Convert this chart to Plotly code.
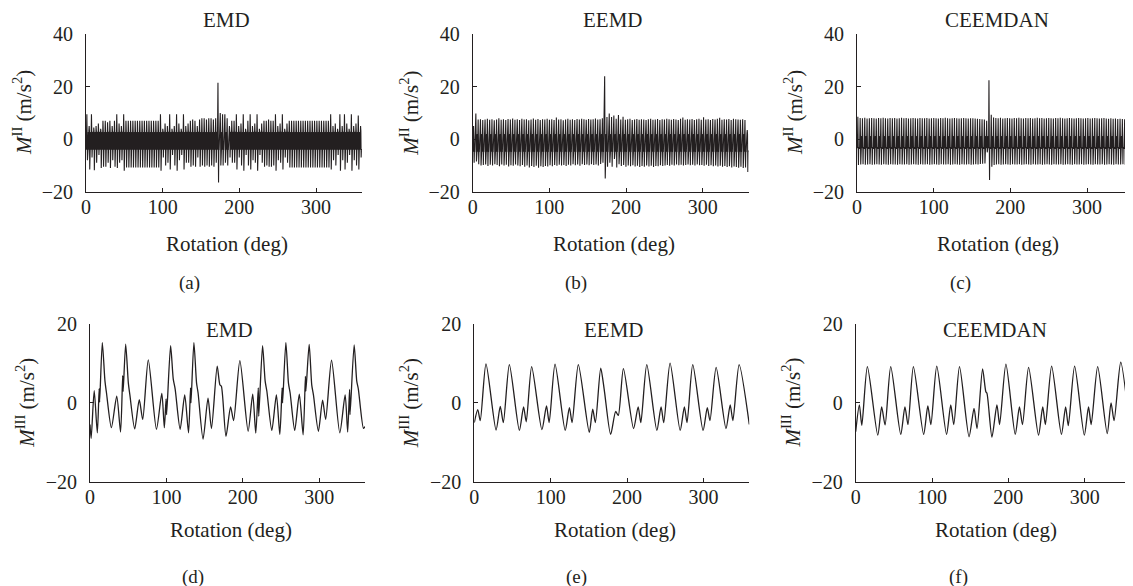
import plotly.graph_objects as go

# ---- top row: one entry per 3-degree mesh cycle (peak / trough of each impulse)
CYCLE_DEG = 3

PEAKS_EMD = [
    9.5, 5, 9.5, 4.5, 5, 6, 4, 7, 7, 6.5,
    7, 5, 7, 9.5, 6, 5, 9.5, 7, 7, 7,
    7, 7, 7, 7, 7, 7, 7, 7, 7, 7,
    7, 7, 9.5, 4, 6, 5, 9.5, 4, 5, 9.5,
    6, 4, 9.5, 5, 6, 7, 7.5, 7, 5, 7.5,
    8, 8, 7.5, 8, 8, 7.5, 8, 21.5, 10, 9.5,
    9.5, 8, 5, 7, 7, 9.5, 5, 6, 9.5, 4,
    7, 9.5, 5, 6, 9.5, 4, 6, 7, 7, 7.5,
    7, 7, 9.5, 5, 6, 9.5, 4, 6, 7, 7,
    7, 7, 7, 7, 7, 7, 7, 7, 7, 7,
    7, 7, 7, 7, 7, 7, 9.5, 5, 6, 4,
    9.5, 5, 9.5, 6, 4, 9.5, 5, 6, 9, 5,
]
TROUGHS_EMD = [
    -8, -11.5, -7, -11.8, -9, -6, -11, -10.5, -10.5, -9,
    -11, -8, -10.5, -11, -9, -8, -12, -10.8, -10.8, -10.8,
    -10.8, -10.8, -10.8, -10.8, -10.8, -10.8, -10.8, -10.8, -10.8, -10.8,
    -10.8, -10.8, -12, -7, -10, -9, -11.5, -6, -10, -12,
    -8, -6, -11.5, -9, -9, -10.5, -10, -10.5, -7, -10.5,
    -10, -10.5, -10, -10.5, -10, -10.5, -9, -16.5, -10, -10,
    -9, -10, -7, -9, -9, -11.5, -7, -10, -12, -6,
    -10, -11.5, -8, -9, -12, -6, -9, -10.5, -10, -10.5,
    -10.5, -10, -12, -8, -9, -11.5, -7, -9, -10.8, -10.8,
    -10.8, -10.8, -10.8, -10.8, -10.8, -10.8, -10.8, -10.8, -10.8, -10.8,
    -10.8, -10.8, -10.8, -10.8, -10.8, -10.8, -11.5, -8, -10, -6,
    -12, -8, -11.5, -9, -6, -12, -8, -10, -11.5, -7,
]
BAND_EMD = [2.8, -4.0, 3.4, 3.2, -3.8, -4.2]

PEAKS_EEMD = [
    5, 9.8, 7.5, 7.6, 7.3, 7.5, 7.8, 7.4, 7.6, 7.2,
    7.5, 8.0, 7.4, 7.6, 7.3, 7.7, 7.5, 7.9, 7.4, 7.6,
    7.3, 7.8, 7.5, 7.6, 7.2, 7.5, 7.9, 7.4, 7.7, 7.3,
    7.6, 7.5, 7.8, 7.4, 7.6, 7.3, 8.3, 7.5, 7.6, 7.2,
    7.5, 7.8, 7.4, 7.6, 7.3, 7.7, 7.5, 7.8, 7.6, 7.4,
    7.7, 7.5, 7.6, 7.9, 7.5, 7.6, 8.0, 24.0, 8.5, 9.8,
    8.5, 9.0, 7.8, 9.2, 7.5, 8.6, 7.4, 7.6, 7.8, 7.3,
    7.5, 7.7, 7.4, 7.6, 7.5, 7.3, 7.6, 7.8, 7.4, 7.5,
    7.7, 7.3, 7.6, 7.5, 7.8, 7.6, 7.4, 7.7, 7.5, 7.3,
    7.8, 8.3, 7.4, 7.6, 7.5, 7.7, 7.3, 7.6, 7.8, 7.4,
    8.4, 7.5, 7.6, 7.3, 7.7, 7.5, 7.8, 8.2, 7.4, 7.6,
    7.5, 7.7, 7.3, 7.8, 7.6, 7.5, 7.4, 7.6, 7.3, 3.5,
]
TROUGHS_EEMD = [
    -9, -8.5, -9.5, -10, -9.8, -9.6, -10.2, -9.7, -10, -9.5,
    -9.8, -10.3, -9.6, -10, -9.7, -10.4, -9.9, -10.1, -9.6, -10,
    -10.3, -9.8, -10.5, -10, -10.8, -10.2, -10.6, -10.1, -10.9, -10.3,
    -10.6, -10.2, -10.4, -9.9, -10.3, -9.8, -10.1, -9.7, -10, -9.8,
    -10.2, -9.7, -10, -9.5, -9.9, -9.6, -10.1, -9.5, -9.8, -9.6,
    -9.9, -9.5, -9.8, -9.6, -10, -9.4, -9.0, -15.0, -10.5, -9.0,
    -10.5, -7.5, -10.8, -9.5, -10.2, -9.8, -10.5, -10.0, -10.3, -9.9,
    -10.4, -10.1, -10.6, -10.2, -10.5, -10, -10.4, -10.1, -10.6, -10.2,
    -10.3, -9.9, -10.2, -10, -9.8, -10.1, -9.7, -10, -9.6, -9.9,
    -9.7, -10, -9.8, -9.6, -9.9, -9.7, -10, -9.6, -9.9, -9.8,
    -10.1, -9.7, -10.2, -9.9, -10.3, -10, -10.4, -10.1, -10.5, -10.2,
    -10.6, -10.3, -10.8, -10.4, -10.6, -10.9, -10.5, -11, -10.8, -12.5,
]
BAND_EEMD = [2.0, -4.8, 2.4, 1.8, -4.2, -5.0]

PEAKS_CEEMDAN = [
    8.6, 8.1, 8.0, 8.2, 7.9, 8.0, 8.1, 8.0, 7.9, 8.1,
    8.0, 8.2, 8.0, 7.9, 8.1, 8.0, 8.1, 7.9, 8.0, 8.2,
    8.0, 8.1, 7.9, 8.0, 8.1, 8.0, 7.9, 8.1, 8.0, 8.0,
    8.1, 7.9, 8.0, 8.1, 8.0, 7.9, 8.1, 8.0, 8.2, 8.0,
    7.9, 8.0, 8.1, 8.0, 7.9, 8.0, 8.1, 8.0, 7.9, 8.0,
    8.0, 7.9, 7.8, 7.7, 7.6, 7.5, 7.0, 22.5, 9.3, 8.3,
    8.1, 8.0, 8.2, 7.9, 8.0, 8.1, 8.0, 7.9, 8.1, 8.0,
    8.2, 8.0, 7.9, 8.1, 8.0, 8.1, 7.9, 8.0, 8.2, 8.0,
    8.1, 7.9, 8.0, 8.1, 8.0, 7.9, 8.1, 8.0, 8.2, 8.0,
    7.9, 8.0, 8.1, 8.0, 7.9, 8.0, 8.1, 8.0, 7.9, 8.0,
    8.1, 7.9, 8.0, 8.1, 8.0, 7.9, 8.0, 8.1, 7.9, 7.8,
    8.0, 7.8, 7.9, 7.7, 7.8, 7.7, 7.6, 7.7, 7.6, 7.5,
]
TROUGHS_CEEMDAN = [
    -9.8, -9.6, -9.5, -9.7, -9.6, -9.5, -9.7, -9.6, -9.5, -9.6,
    -9.7, -9.5, -9.6, -9.7, -9.5, -9.6, -9.6, -9.7, -9.5, -9.6,
    -9.6, -9.5, -9.7, -9.6, -9.5, -9.6, -9.7, -9.5, -9.6, -9.6,
    -9.5, -9.7, -9.6, -9.5, -9.6, -9.7, -9.5, -9.6, -9.6, -9.5,
    -9.7, -9.6, -9.5, -9.6, -9.7, -9.5, -9.6, -9.6, -9.5, -9.7,
    -9.6, -9.5, -9.6, -9.4, -9.3, -9.2, -5.0, -15.5, -10.5, -9.8,
    -9.6, -9.5, -9.7, -9.6, -9.5, -9.6, -9.7, -9.5, -9.6, -9.6,
    -9.5, -9.7, -9.6, -9.5, -9.6, -9.7, -9.5, -9.6, -9.6, -9.5,
    -9.7, -9.6, -9.5, -9.6, -9.7, -9.5, -9.6, -9.6, -9.5, -9.7,
    -9.6, -9.5, -9.6, -9.7, -9.5, -9.6, -9.6, -9.5, -9.7, -9.6,
    -9.5, -9.6, -9.7, -9.5, -9.6, -9.6, -9.5, -9.7, -9.6, -9.5,
    -9.6, -9.7, -9.5, -9.6, -9.6, -9.5, -9.7, -9.6, -9.8, -9.8,
]
BAND_CEEMDAN = [1.2, -3.4, 1.5, 1.2, -3.0, -3.3]

# ---- bottom row: turning points of the smooth third-order components (deg, m/s^2)
EMD3_DEG = [0, 1.5, 5.5, 9.6, 12.0, 12.6, 16.1, 19.6, 21.6, 28.0, 35.0, 40.0, 42.8, 43.4,
            46.7, 50.2, 52.2, 58.5, 64.5, 69.0, 76.3, 87.0, 94.0, 97.3, 99.6, 100.3,
            105.5, 109.0, 111.5, 118.0, 124.0, 129.0, 131.6, 132.2, 136.0, 139.5, 141.5,
            148.0, 154.5, 159.0, 166.5, 170.0, 172.0, 178.0, 184.0, 188.0, 196.2, 207.0,
            213.0, 217.0, 220.3, 220.9, 225.9, 229.3, 231.5, 238.0, 244.0, 248.5, 251.5,
            252.1, 256.4, 259.8, 262.0, 268.0, 274.0, 279.0, 282.0, 282.6, 286.9, 290.3,
            292.5, 299.0, 304.5, 308.5, 316.2, 327.0, 334.0, 337.3, 339.8, 340.4, 345.8,
            349.2, 351.3, 358.0, 360.0]
EMD3_VAL = [-5.5, -9.0, 3.1, -7.6, 3.6, 0.2, 15.3, 5.5, 2.5, -6.3, 1.7, -7.4, 6.9, 2.9,
            14.9, 5.0, 2.0, -6.6, 0.8, -4.2, 10.9, -6.7, 2.4, -6.3, 1.0, -3.0,
            14.5, 6.0, 3.5, -6.7, 2.0, -7.6, 3.8, 0.0, 15.3, 5.0, 2.5,
            -9.2, 1.2, -6.5, 9.3, 4.6, 4.2, -8.5, -1.0, -4.5, 10.7, -7.2,
            2.2, -7.7, 3.8, -3.4, 14.5, 5.5, 3.0, -7.0, 2.0, -8.0, 3.8,
            0.0, 15.3, 5.0, 2.5, -7.0, 2.2, -8.1, 6.7, 3.0, 14.8, 4.5,
            2.0, -7.2, 0.7, -4.2, 10.8, -7.6, 2.0, -7.4, 3.4, -3.0, 14.7,
            5.5, 3.5, -6.5, -6.0]

EEMD3_DEG = [0, 4.5, 7.8, 15.3, 28.5, 34.0, 38.0, 45.9, 59.0, 64.5, 68.0, 75.1, 88.5, 94.5,
             98.0, 105.7, 119.0, 124.5, 128.0, 136.2, 150.5, 155.0, 158.5, 165.5, 170.0,
             178.5, 185.0, 188.5, 195.2, 208.5, 214.5, 218.0, 225.8, 239.0, 244.5, 248.0,
             256.3, 269.5, 275.0, 278.5, 286.0, 299.5, 305.0, 308.5, 316.6, 329.5, 335.0,
             338.5, 346.7, 360.0]
EEMD3_VAL = [-5.0, -1.7, -4.5, 9.9, -6.9, -0.9, -5.0, 9.7, -7.0, -1.0, -4.8, 9.2, -6.8, -0.8,
             -5.0, 9.8, -7.0, -1.2, -5.0, 9.7, -7.5, -1.6, -5.0, 8.8, 3.5,
             -8.0, -2.2, -3.2, 8.7, -6.5, -1.0, -5.0, 9.7, -7.0, -1.0, -5.0,
             10.1, -7.0, -1.0, -5.0, 9.7, -7.0, -1.2, -4.5, 9.0, -6.5, -0.5,
             -4.5, 9.7, -5.5]

CEEMDAN3_DEG = [0, 4.8, 8.0, 15.3, 28.9, 34.0, 38.5, 45.9, 59.0, 64.5, 68.5, 75.6, 89.0,
                94.5, 98.5, 106.2, 119.0, 124.5, 128.5, 136.0, 148.5, 155.0, 159.0, 166.2,
                170.5, 172.0, 178.5, 185.0, 188.5, 196.8, 209.0, 214.5, 218.5, 226.5, 239.5,
                245.0, 248.5, 256.7, 269.5, 275.0, 278.5, 286.8, 299.5, 305.0, 308.5, 317.0,
                329.5, 334.5, 338.5, 347.2, 360.0]
CEEMDAN3_VAL = [-7.3, -0.5, -5.7, 9.2, -8.2, -1.0, -5.6, 9.2, -8.0, -1.0, -5.5, 9.2, -8.0,
                -0.8, -5.5, 9.3, -8.0, -0.5, -5.5, 9.2, -8.6, -1.4, -6.5, 8.6,
                2.8, 2.4, -8.7, -0.5, -5.5, 9.8, -8.0, -1.0, -5.5, 9.0, -8.2,
                -1.0, -5.5, 9.3, -8.0, -1.0, -5.8, 9.3, -8.2, -1.0, -5.5, 9.2,
                -7.8, 0.0, -4.5, 10.3, -8.3]

METHODS = ["EMD", "EEMD", "CEEMDAN"]
PANEL_TAGS = ["(a)", "(b)", "(c)", "(d)", "(e)", "(f)"]
X_TICKS = [0, 100, 200, 300]
Y_TICKS_TOP = [-20, 0, 20, 40]
Y_TICKS_BOTTOM = [-20, 0, 20]
X_TITLE = "Rotation (deg)"
Y_TITLE_TOP = "<i>M</i><sup>II</sup> (m/s<sup>2</sup>)"
Y_TITLE_BOTTOM = "<i>M</i><sup>III</sup> (m/s<sup>2</sup>)"

# the page body keeps its default 8px margin, so the figure is drawn 8px in
PAGE_PAD = 8
W, H = 1133 - PAGE_PAD, 586 - PAGE_PAD
INK = "#231f20"
FONT = "Liberation Serif, Times New Roman, serif"


def mesh_trace(peaks, troughs, band):
    """Expand per-cycle peak/trough readings into the impulse-train polyline."""
    xs, ys = [], []
    for i, (p, t) in enumerate(zip(peaks, troughs)):
        seq = [band[0], band[1], band[2], p, band[3], t, band[4], band[5]]
        for k, v in enumerate(seq):
            xs.append(i * CYCLE_DEG + k * CYCLE_DEG / len(seq))
            ys.append(v)
    return xs, ys


def px(x):
    return (x - PAGE_PAD) / W


def py(y):
    return 1 - (y - PAGE_PAD) / H


fig = go.Figure()

# screen-pixel boxes of the six plot areas: (left, right, top, bottom)
boxes = [
    (86, 362, 34.3, 191.7), (472.7, 748.7, 34.3, 191.7), (857, 1133, 34.3, 191.7),
    (90, 365, 324, 481.7), (474.3, 749.3, 324, 481.7), (855.7, 1130.5, 324, 481.7),
]

top_data = [(PEAKS_EMD, TROUGHS_EMD, BAND_EMD),
            (PEAKS_EEMD, TROUGHS_EEMD, BAND_EEMD),
            (PEAKS_CEEMDAN, TROUGHS_CEEMDAN, BAND_CEEMDAN)]
bottom_data = [(EMD3_DEG, EMD3_VAL), (EEMD3_DEG, EEMD3_VAL), (CEEMDAN3_DEG, CEEMDAN3_VAL)]

for j, (pk, tr, bd) in enumerate(top_data):
    x, y = mesh_trace(pk, tr, bd)
    n = j + 1
    fig.add_trace(go.Scatter(x=x, y=y, mode="lines", line=dict(color=INK, width=1.1),
                             xaxis=f"x{n}", yaxis=f"y{n}", showlegend=False, hoverinfo="skip"))

for j, (deg, val) in enumerate(bottom_data):
    n = j + 4
    fig.add_trace(go.Scatter(x=deg, y=val, mode="lines",
                             line=dict(color=INK, width=1.3, shape="spline", smoothing=0.7),
                             xaxis=f"x{n}", yaxis=f"y{n}", showlegend=False, hoverinfo="skip"))

axis_common = dict(showgrid=False, zeroline=False, showline=True, linecolor=INK, linewidth=1,
                   ticks="inside", ticklen=4, tickcolor=INK, tickwidth=1, automargin=False,
                   tickfont=dict(family=FONT, size=20, color=INK), mirror=False)

layout = dict(template="none", width=W, height=H, margin=dict(l=0, r=0, t=0, b=0, pad=0),
              paper_bgcolor="white", plot_bgcolor="white", showlegend=False)

annotations = []
for i, (l, r, t, b) in enumerate(boxes):
    n = i + 1
    top = i < 3
    yt = Y_TICKS_TOP if top else Y_TICKS_BOTTOM
    layout[f"xaxis{n}" if n > 1 else "xaxis"] = dict(
        axis_common, domain=[px(l), px(r)], range=[0, 360], anchor=f"y{n}",
        tickvals=X_TICKS, ticklabelstandoff=-3)
    layout[f"yaxis{n}" if n > 1 else "yaxis"] = dict(
        axis_common, domain=[py(b), py(t)], range=[yt[0], yt[-1]], anchor=f"x{n}",
        tickvals=yt, ticktext=[str(v).replace("-", "\u2212") for v in yt],
        ticklabelstandoff=8)

    cx = (l + r) / 2
    title_y = 20 if top else 330
    annotations.append(dict(text=METHODS[i % 3], x=px(cx + 2), y=py(title_y), xref="paper",
                            yref="paper", showarrow=False, xanchor="center", yanchor="middle",
                            font=dict(family=FONT, size=21, color=INK)))
    annotations.append(dict(text=X_TITLE, x=px(cx + 3), y=py(b + (52 if top else 48.5)),
                            xref="paper", yref="paper", showarrow=False, xanchor="center",
                            yanchor="middle", font=dict(family=FONT, size=21, color=INK)))
    annotations.append(dict(text=PANEL_TAGS[i], x=px(cx - 35), y=py(b + (91 if top else 95)),
                            xref="paper", yref="paper", showarrow=False, xanchor="center",
                            yanchor="middle", font=dict(family=FONT, size=19, color=INK)))
    annotations.append(dict(text=Y_TITLE_TOP if top else Y_TITLE_BOTTOM, textangle=-90,
                            x=px(l - 64), y=py((t + b) / 2), xref="paper", yref="paper",
                            showarrow=False, xanchor="center", yanchor="middle",
                            font=dict(family=FONT, size=21, color=INK)))

layout["annotations"] = annotations
fig.update_layout(**layout)

fig.write_html("out.html")
